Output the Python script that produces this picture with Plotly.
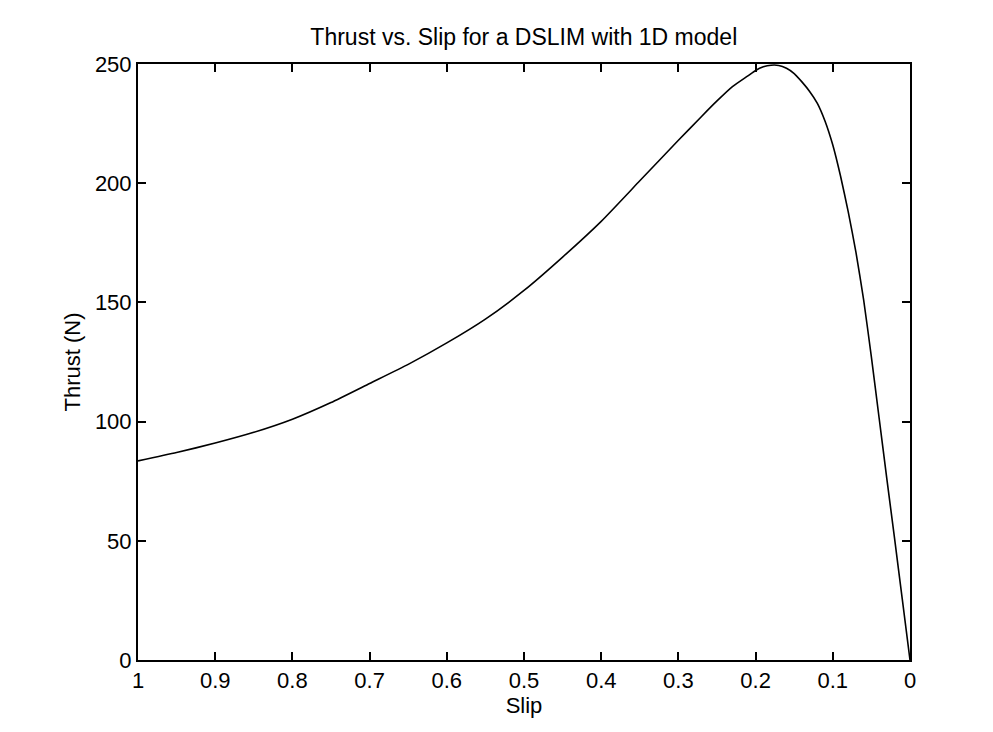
import plotly.graph_objects as go

# Data
slip = [1.0, 0.95, 0.9, 0.85, 0.8, 0.75, 0.7, 0.65, 0.6, 0.55, 0.5, 0.45, 0.4,
        0.35, 0.3, 0.27, 0.25, 0.23, 0.21, 0.2, 0.19, 0.18, 0.17, 0.16, 0.15,
        0.14, 0.13, 0.12, 0.11, 0.1, 0.09, 0.08, 0.07, 0.06, 0.05, 0.04, 0.03,
        0.02, 0.01, 0.0]
thrust = [83.5, 87, 91, 95.5, 101, 108, 116, 124, 133, 143, 155, 169, 184,
          201, 218, 228, 234.5, 240.5, 245, 247.3, 248.8, 249.5, 249.4, 248.2, 246,
          242.5, 238.5, 233.5, 226, 216, 203, 188, 171, 151, 127, 101.5, 76,
          51, 25.5, 0]

x_ticks = [1.0, 0.9, 0.8, 0.7, 0.6, 0.5, 0.4, 0.3, 0.2, 0.1, 0.0]
x_tick_labels = ["1", "0.9", "0.8", "0.7", "0.6", "0.5", "0.4", "0.3", "0.2", "0.1", "0"]
y_ticks = [0, 50, 100, 150, 200, 250]

title_text = "Thrust vs. Slip for a DSLIM with 1D model"
x_title = "Slip"
y_title = "Thrust (N)"

FONT = "Liberation Sans, Arial, sans-serif"

fig = go.Figure()
fig.add_trace(go.Scatter(
    x=slip, y=thrust, mode="lines",
    line=dict(color="black", width=1.6, shape="spline", smoothing=0.5),
    showlegend=False,
))

axis_common = dict(
    showline=True, linecolor="black", linewidth=2,
    mirror="ticks", ticks="inside", ticklen=8, tickwidth=2, tickcolor="black",
    showgrid=False, zeroline=False,
    tickfont=dict(family=FONT, size=22, color="black"),
)

fig.update_layout(
    width=993, height=732,
    margin=dict(l=138, r=83, t=64, b=72),
    paper_bgcolor="white", plot_bgcolor="white",
    title=dict(text=title_text, x=0.5275, xanchor="center", y=0.95, yanchor="middle",
               font=dict(family=FONT, size=23, color="black")),
    xaxis=dict(range=[1, 0], tickvals=x_ticks, ticktext=x_tick_labels,
               title=dict(text=x_title, font=dict(family=FONT, size=22, color="black"), standoff=4),
               **axis_common),
    yaxis=dict(range=[0, 250], tickvals=y_ticks,
               title=dict(text=y_title, font=dict(family=FONT, size=22, color="black"), standoff=8),
               **axis_common),
)

fig.write_html("out.html")
